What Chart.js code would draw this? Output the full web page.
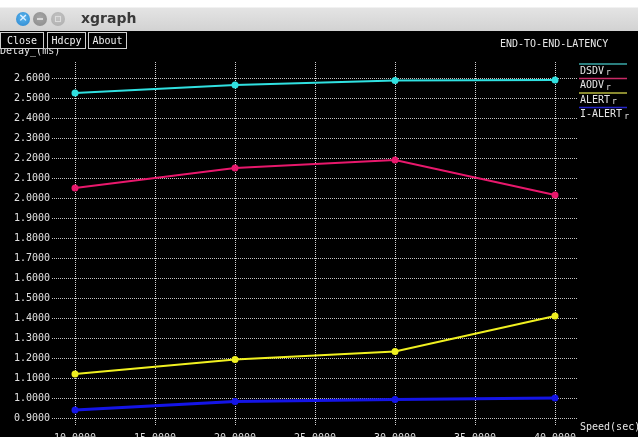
<!DOCTYPE html>
<html>
<head>
<meta charset="utf-8">
<script src="https://cdn.jsdelivr.net/npm/chart.js@4.4.1/dist/chart.umd.min.js"></script>
<style>
  html, body { margin: 0; padding: 0; background: #000; overflow: hidden; width: 638px; height: 437px; }
  #wrap { position: absolute; left: 0; top: 0; width: 638px; height: 450px; }
  #titlebar { position: absolute; left: 0; top: 0; width: 638px; height: 31px;
    background: linear-gradient(#ffffff 0px, #ffffff 7px, #e4e4e4 8px, #d2d2d2 31px); }
  .dot { position: absolute; top: 12px; width: 14px; height: 14px; border-radius: 50%; }
  #bclose { left: 16px; background: radial-gradient(circle at 50% 40%, #5cb6ee, #2b86cf); }
  #bclose::after { content: "×"; position: absolute; left: 0; top: -1px; width: 14px; text-align: center;
    font: bold 11px "DejaVu Sans", sans-serif; color: #dff0ff; }
  #bmin { left: 33px; background: radial-gradient(circle at 50% 40%, #a6a6a6, #8a8a8a); }
  #bmin::after { content: ""; position: absolute; left: 4px; top: 6px; width: 6px; height: 2px; background: #d8d8d8; }
  #bmax { left: 51px; background: radial-gradient(circle at 50% 40%, #c4c4c4, #acacac); }
  #bmax::after { content: ""; position: absolute; left: 4px; top: 4px; width: 4px; height: 4px; border: 1px solid #dcdcdc; }
  #wtitle { position: absolute; left: 81px; top: 10px; font: bold 14px "DejaVu Sans", sans-serif; color: #3a3a3a; }
  .btn { position: absolute; top: 32px; height: 15px; background: #000; border: 1px solid #d0d0d0;
    font: 10px "DejaVu Sans Mono", monospace; color: #f0f0f0; line-height: 15px; text-align: center; }
</style>
</head>
<body>
<div id="wrap"><canvas id="c" width="638" height="450"></canvas></div>
<div id="titlebar">
  <div class="dot" id="bclose"></div>
  <div class="dot" id="bmin"></div>
  <div class="dot" id="bmax"></div>
  <div id="wtitle">xgraph</div>
</div>
<div class="btn" style="left:0px;width:42px;">Close</div>
<div class="btn" style="left:47px;width:37px;">Hdcpy</div>
<div class="btn" style="left:88px;width:37px;">About</div>
<script>
// Mobility speed (sec) on the x axis
const speeds = [10, 20, 30, 40];

// End-to-end delay (ms) per protocol
const dsdvDelay   = [2.525, 2.565, 2.588, 2.590];
const aodvDelay   = [2.050, 2.150, 2.190, 2.015];
const alertDelay  = [1.120, 1.193, 1.233, 1.410];
const ialertDelay = [0.940, 0.983, 0.992, 1.000];

const seriesNames  = ['DSDV', 'AODV', 'ALERT', 'I-ALERT'];
const seriesColors = ['#30e0e0', '#e8186c', '#f0f020', '#1414e6'];
const seriesWidths = [2, 2, 2, 3];
const legendColors = ['#3aa8a8', '#c82a66', '#b8b840', '#2424c8'];

// Tick positions on both axes
const xTicks = [10, 15, 20, 25, 30, 35, 40];
const yTicks = [0.9, 1.0, 1.1, 1.2, 1.3, 1.4, 1.5, 1.6, 1.7, 1.8, 1.9, 2.0, 2.1, 2.2, 2.3, 2.4, 2.5, 2.6];

const chartTitle = 'END-TO-END-LATENCY';
const xAxisTitle = 'Speed(sec)';
const yAxisTitle = 'Delay_(ms)';

const MONO = '10px "DejaVu Sans Mono", monospace';

const allSeries = [dsdvDelay, aodvDelay, alertDelay, ialertDelay];
const datasets = allSeries.map((vals, i) => ({
  label: seriesNames[i],
  data: speeds.map((s, k) => ({ x: s, y: vals[k] })),
  borderColor: seriesColors[i],
  backgroundColor: seriesColors[i],
  pointBackgroundColor: seriesColors[i],
  pointBorderWidth: 0,
  pointRadius: 3.5,
  borderWidth: seriesWidths[i],
  showLine: true,
  tension: 0
}));

// Paints the black backdrop and the xgraph-style annotations
const xgraphDecor = {
  id: 'xgraphDecor',
  beforeDraw(chart) {
    const ctx = chart.ctx;
    ctx.save();
    ctx.fillStyle = '#000';
    ctx.fillRect(0, 0, chart.width, chart.height);
    ctx.restore();
  },
  afterDraw(chart) {
    const ctx = chart.ctx;
    const area = chart.chartArea;
    ctx.save();
    ctx.font = MONO;
    ctx.fillStyle = '#e6e6e6';
    ctx.textBaseline = 'middle';
    ctx.textAlign = 'left';
    ctx.fillText(chartTitle, 500, 44);
    ctx.fillText(yAxisTitle, 0, 51);
    ctx.fillText(xAxisTitle, area.right + 2, 427);

    // Legend: coloured rule above each name
    const lx = area.right + 1;
    seriesNames.forEach((name, i) => {
      const y = 64 + i * 14.5;
      ctx.strokeStyle = legendColors[i];
      ctx.lineWidth = 1.5;
      ctx.beginPath();
      ctx.moveTo(lx, y);
      ctx.lineTo(lx + 48, y);
      ctx.stroke();
      ctx.font = MONO;
      ctx.fillStyle = '#e6e6e6';
      ctx.fillText(name, lx + 1, y + 7);
      const w = ctx.measureText(name).width;
      ctx.font = '8px "DejaVu Sans Mono", monospace';
      ctx.fillText('r', lx + 3 + w, y + 9);
    });
    ctx.restore();
  }
};

new Chart(document.getElementById('c'), {
  type: 'scatter',
  data: { datasets },
  plugins: [xgraphDecor],
  options: {
    responsive: false,
    animation: false,
    devicePixelRatio: 1,
    layout: { padding: { top: 62, right: 60, left: 0, bottom: 0 } },
    plugins: { legend: { display: false }, tooltip: { enabled: false } },
    scales: {
      x: {
        type: 'linear',
        min: 8.5625,
        max: 41.4375,
        afterFit(scale) { scale.height = 24; },
        afterBuildTicks(scale) { scale.ticks = xTicks.map(v => ({ value: v })); },
        grid: { color: '#d4d4d4', drawTicks: false, lineWidth: 1 },
        border: { display: false, dash: [1, 1] },
        ticks: {
          padding: 6,
          color: '#e0e0e0',
          font: { family: '"DejaVu Sans Mono", monospace', size: 10 },
          maxRotation: 0,
          autoSkip: false,
          callback: v => Number(v).toFixed(4)
        }
      },
      y: {
        type: 'linear',
        min: 0.86,
        max: 2.68,
        afterFit(scale) { scale.width = 52; },
        afterBuildTicks(scale) { scale.ticks = yTicks.map(v => ({ value: v })); },
        grid: { color: '#c4c4c4', drawTicks: false, lineWidth: 1 },
        border: { display: false, dash: [1, 1] },
        ticks: {
          padding: 2,
          color: '#e0e0e0',
          font: { family: '"DejaVu Sans Mono", monospace', size: 10 },
          autoSkip: false,
          callback: v => Number(v).toFixed(4)
        }
      }
    }
  }
});
</script>
</body>
</html>
